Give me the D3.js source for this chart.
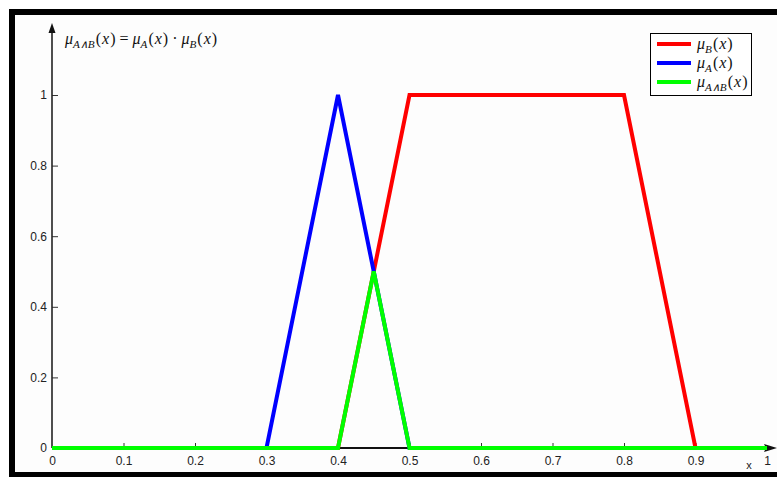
<!DOCTYPE html>
<html>
<head>
<meta charset="utf-8">
<script src="https://cdn.jsdelivr.net/npm/d3@7"></script>
<style>
  html, body { margin: 0; padding: 0; background: #fff; }
  svg { display: block; }
</style>
</head>
<body>
<svg id="chart" width="777" height="477"></svg>
<script>
// membership functions, [x, mu] breakpoints
const muA = [[0, 0], [0.3, 0], [0.4, 1], [0.5, 0], [1, 0]];
const muB = [[0, 0], [0.4, 0], [0.5, 1], [0.8, 1], [0.9, 0], [1, 0]];
const muAB = [[0, 0], [0.4, 0], [0.45, 0.5], [0.5, 0], [1, 0]];

const xTicks = [0, 0.1, 0.2, 0.3, 0.4, 0.5, 0.6, 0.7, 0.8, 0.9, 1];
const yTicks = [0, 0.2, 0.4, 0.6, 0.8, 1];

const series = [
  { name: 'B', sub: 'B', data: muB, color: '#ff0000' },
  { name: 'A', sub: 'A', data: muA, color: '#0000ff' },
  { name: 'AB', sub: 'A\u2227B', data: muAB, color: '#00ff00' }
];

const svg = d3.select('#chart');

// frame
svg.append('rect')
  .attr('x', 12).attr('y', 12)
  .attr('width', 820).attr('height', 463)
  .attr('fill', '#fdfdfd')
  .attr('stroke', '#000')
  .attr('stroke-width', 6);

const x = d3.scaleLinear().domain([0, 1]).range([52, 767]);
const y = d3.scaleLinear().domain([0, 1]).range([448, 95]);

const sans = 'Liberation Sans, Arial, sans-serif';

// x axis ticks + labels
const gx = svg.append('g')
  .attr('transform', `translate(0,${y(0)})`)
  .call(d3.axisBottom(x).tickValues(xTicks).tickFormat(d3.format('')).tickSizeInner(-5).tickSizeOuter(0).tickPadding(8));
gx.select('.domain').remove();
gx.selectAll('.tick line').attr('stroke', '#333').filter(d => d === 0 || d === 1).remove();
gx.selectAll('.tick text').attr('font-family', sans).attr('font-size', 12).attr('fill', '#222');

// y axis ticks + labels
const gy = svg.append('g')
  .attr('transform', `translate(${x(0)},0)`)
  .call(d3.axisLeft(y).tickValues(yTicks).tickFormat(d3.format('')).tickSizeInner(-6).tickSizeOuter(0).tickPadding(5));
gy.select('.domain').remove();
gy.selectAll('.tick line').attr('stroke', '#333').filter(d => d === 0).remove();
gy.selectAll('.tick text').attr('font-family', sans).attr('font-size', 12).attr('fill', '#222');

// axis lines with arrows
svg.append('line')
  .attr('x1', x(0)).attr('y1', y(0)).attr('x2', x(0)).attr('y2', 30)
  .attr('stroke', '#222').attr('stroke-width', 1.6);
svg.append('path')
  .attr('d', `M${x(0)},23 L${x(0) - 3.5},33 L${x(0) + 3.5},33 Z`)
  .attr('fill', '#111');
svg.append('line')
  .attr('x1', x(0)).attr('y1', y(0)).attr('x2', 770).attr('y2', y(0))
  .attr('stroke', '#111').attr('stroke-width', 2);
svg.append('path')
  .attr('d', `M777,${y(0)} L764,${y(0) - 4} L766,${y(0)} L764,${y(0) + 4} Z`)
  .attr('fill', '#111');

svg.append('text')
  .attr('x', 749).attr('y', 469)
  .attr('font-family', sans)
  .attr('font-size', 11).attr('fill', '#222')
  .attr('text-anchor', 'middle')
  .text('x');

// curves
const line = d3.line().x(d => x(d[0])).y(d => y(d[1]));
svg.append('g').selectAll('path')
  .data(series)
  .join('path')
  .attr('d', d => line(d.data))
  .attr('fill', 'none')
  .attr('stroke', d => d.color)
  .attr('stroke-width', 4)
  .attr('stroke-linejoin', 'miter');

// mu label helper
const serif = 'Liberation Serif, Times New Roman, serif';
function muLabel(t, sub, size) {
  t.append('tspan').attr('font-style', 'italic').text('\u03bc');
  t.append('tspan').attr('font-style', 'italic').attr('font-size', size * 0.7).attr('dy', 4).text(sub);
  t.append('tspan').attr('dy', -4).attr('dx', 1).text('(');
  t.append('tspan').attr('font-style', 'italic').attr('dx', 1).text('x');
  t.append('tspan').attr('dx', 1).text(')');
}

// title formula
const title = svg.append('text')
  .attr('x', 65).attr('y', 44)
  .attr('font-family', serif)
  .attr('font-size', 16)
  .attr('fill', '#111');
muLabel(title, 'A\u2227B', 16);
title.append('tspan').text(' = ');
muLabel(title, 'A', 16);
title.append('tspan').text(' \u00b7 ');
muLabel(title, 'B', 16);

// legend
const legend = svg.append('g');
legend.append('rect')
  .attr('x', 650.5).attr('y', 33.5)
  .attr('width', 101).attr('height', 62)
  .attr('fill', '#fff')
  .attr('stroke', '#000').attr('stroke-width', 1);

const items = legend.selectAll('g.item')
  .data(series)
  .join('g')
  .attr('class', 'item')
  .attr('transform', (d, i) => `translate(0,${44 + i * 19})`);
items.append('line')
  .attr('x1', 657).attr('x2', 691)
  .attr('stroke', d => d.color).attr('stroke-width', 4);
items.append('text')
  .attr('x', 697).attr('y', 5)
  .attr('font-family', serif)
  .attr('font-size', 16)
  .attr('fill', '#111')
  .each(function(d) { muLabel(d3.select(this), d.sub, 16); });
</script>
</body>
</html>
